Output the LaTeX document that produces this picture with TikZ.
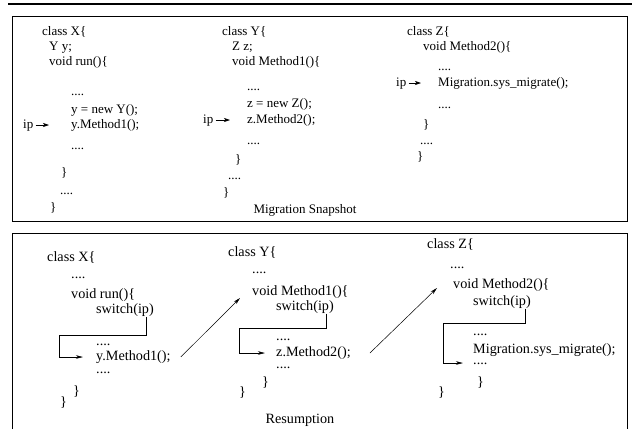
\documentclass[tikz,border=0pt]{standalone}
\usepackage{fontspec}
\setmainfont{Liberation Serif}
\usetikzlibrary{arrows.meta}

\begin{document}
\begin{tikzpicture}[x=1pt,y=-1pt,
        code/.style={anchor=west, inner sep=0pt, text height=9pt, text depth=3pt, font=\fontsize{13}{15}\selectfont},
        dots/.style={code, text height=2pt, text depth=0pt},
        rcode/.style={anchor=west, inner sep=0pt, text height=10pt, text depth=3pt, font=\fontsize{14.2}{16}\selectfont},
        rdots/.style={rcode, text height=2pt, text depth=0pt},
        ipptr/.style={-{Stealth[length=6pt,width=4pt,inset=1.5pt]}, line width=0.6pt, shorten <=2pt, shorten >=17pt},
        route/.style={line width=0.6pt},
        routeend/.style={route, -{Stealth[length=7pt,width=3.5pt,inset=2pt]}},
        callptr/.style={-{Stealth[length=7pt,width=3.5pt,inset=2pt]}, line width=0.5pt}]

        \useasboundingbox (0,0) rectangle (632,429);

        % frames
        \draw[line width=1.2pt] (8,4) -- (632,4);
        \draw[line width=1pt] (12,16) rectangle (627,221);
        \draw[line width=1pt] (12,429) -- (12,233) -- (627,233) -- (627,429);

        % migration snapshot
        \foreach \x/\y/\nm/\txt in {42/32/xcls/{class X\{}, 49/47/xdecl/{Y y;}, 49/62/xrun/{void run()\{},
                71/110/xnew/{y = new Y();}, 71/125/xcall/{y.Method1();},
                61/173/xclosea/{\}}, 50/208/xcloseb/{\}}, 23/125/xip/{ip}}
            \node[code] (\nm) at (\x,\y) {\txt};
        \foreach \x/\y/\nm in {71/94/xdotsa, 71/148/xdotsb, 60/193/xdotsc}
            \node[dots] (\nm) at (\x,\y) {....};

        \foreach \x/\y/\nm/\txt in {222/32/ycls/{class Y\{}, 232/47/ydecl/{Z z;}, 232/62/ymeth/{void Method1()\{},
                247/104/ynew/{z = new Z();}, 247/120/ycall/{z.Method2();},
                235/160/yclosea/{\}}, 223/193/ycloseb/{\}}, 203/120/yip/{ip}}
            \node[code] (\nm) at (\x,\y) {\txt};
        \foreach \x/\y/\nm in {247/89/ydotsa, 247/143/ydotsb, 228/178/ydotsc}
            \node[dots] (\nm) at (\x,\y) {....};

        \foreach \x/\y/\nm/\txt in {407/32/zcls/{class Z\{}, 423/47/zmeth/{void Method2()\{},
                438/83/zcall/{Migration.sys\_migrate();}, 423/125/zclosea/{\}}, 417/157/zcloseb/{\}},
                396/83/zip/{ip}}
            \node[code] (\nm) at (\x,\y) {\txt};
        \foreach \x/\y/\nm in {438/69/zdotsa, 438/107/zdotsb, 420/143/zdotsc}
            \node[dots] (\nm) at (\x,\y) {....};

        \draw[ipptr, shorten >=22pt] (xip) -- (xcall);
        \draw[ipptr] (yip) -- (ycall);
        \draw[ipptr] (zip) -- (zcall);

        \node[code, anchor=center] (snap) at (305,210) {Migration Snapshot};

        % resumption
        \foreach \x/\y/\nm/\txt in {47/258/rxcls/{class X\{}, 71/295/rxrun/{void run()\{},
                96/310/rxsw/{switch(ip)}, 96/357/rxcall/{y.Method1();},
                73/392/rxclosea/{\}}, 60/403/rxcloseb/{\}}}
            \node[rcode] (\nm) at (\x,\y) {\txt};
        \foreach \x/\y/\nm in {71/277/rxdotsa, 96/344/rxdotsb, 96/372/rxdotsc}
            \node[rdots] (\nm) at (\x,\y) {....};

        \foreach \x/\y/\nm/\txt in {228/253/rycls/{class Y\{}, 252/292/rymeth/{void Method1()\{},
                276/307/rysw/{switch(ip)}, 276/353/rycall/{z.Method2();},
                262/383/ryclosea/{\}}, 239/393/rycloseb/{\}}}
            \node[rcode] (\nm) at (\x,\y) {\txt};
        \foreach \x/\y/\nm in {252/272/rydotsa, 276/339/rydotsb, 276/367/rydotsc}
            \node[rdots] (\nm) at (\x,\y) {....};

        \foreach \x/\y/\nm/\txt in {427/245/rzcls/{class Z\{}, 453/285/rzmeth/{void Method2()\{},
                473/302/rzsw/{switch(ip)}, 473/350/rzcall/{Migration.sys\_migrate();},
                477/383/rzclosea/{\}}, 438/393/rzcloseb/{\}}}
            \node[rcode] (\nm) at (\x,\y) {\txt};
        \foreach \x/\y/\nm in {450/267/rzdotsa, 473/334/rzdotsb, 473/363/rzdotsc}
            \node[rdots] (\nm) at (\x,\y) {....};

        % jumps out of switch(ip)
        \coordinate (rxbend) at (59,335);
        \coordinate (rybend) at (239,328);
        \coordinate (rzbend) at (443,323);
        \draw[routeend, shorten >=13pt] ([xshift=-8pt]rxsw.south east) |- (rxbend) |- (rxcall.west);
        \draw[routeend, shorten >=11pt] ([xshift=-8pt]rysw.south east) |- (rybend) |- (rycall.west);
        \draw[routeend, shorten >=10pt] ([xshift=-6pt]rzsw.south east) |- (rzbend) |- (rzdotsc.west);

        % calls into the next class
        \draw[callptr] ([xshift=10pt]rxcall.east) -- ([xshift=-12pt,yshift=-6pt]rymeth.west);
        \draw[callptr] ([xshift=19pt]rycall.east) -- ([xshift=-16pt,yshift=-3pt]rzmeth.west);

        \node[rcode, anchor=center] (resume) at (300,420) {Resumption};

    \end{tikzpicture}
\end{document}
